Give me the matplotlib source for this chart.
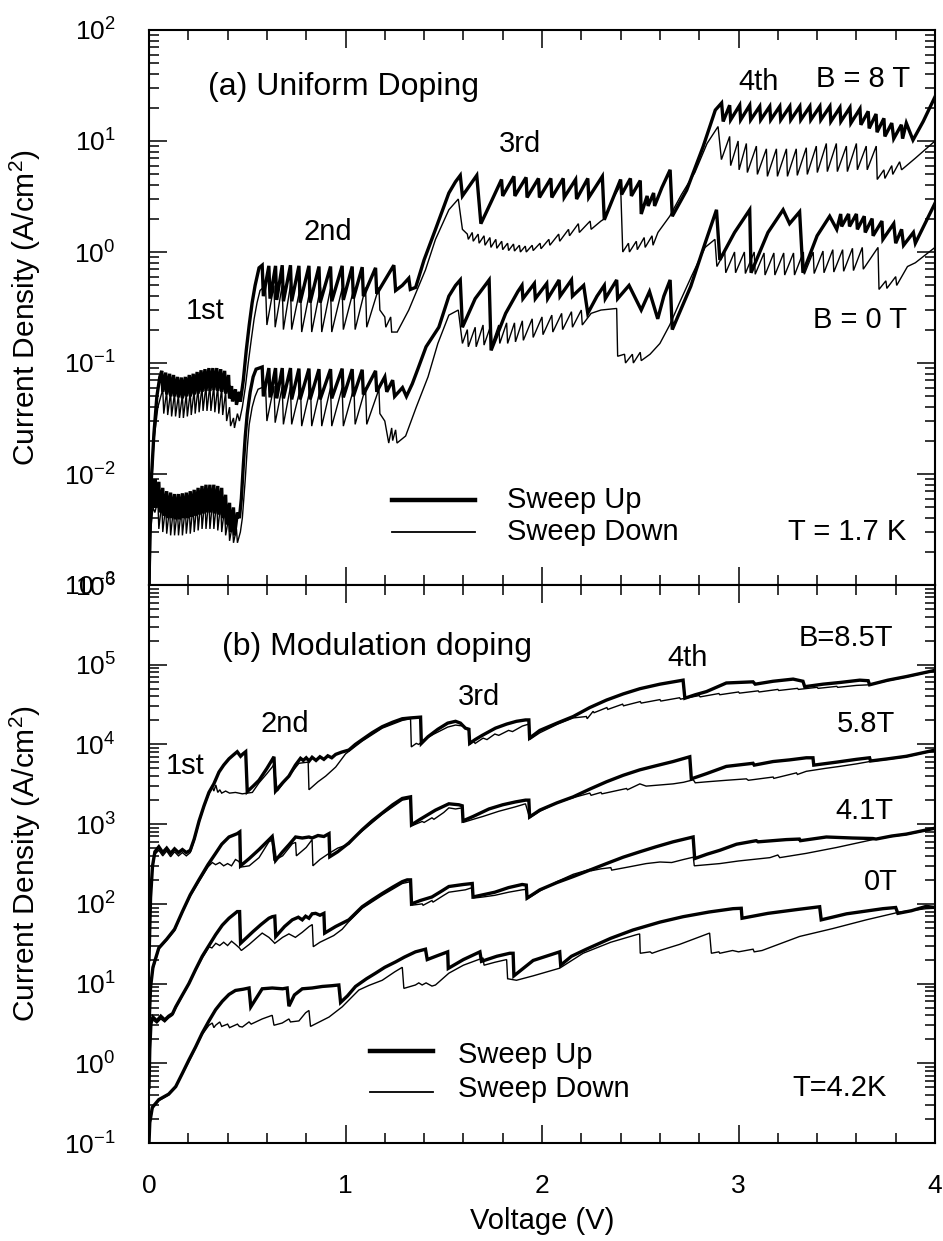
import numpy as np
import matplotlib
matplotlib.use("Agg")
import matplotlib.pyplot as plt
from matplotlib.ticker import MultipleLocator, LogLocator, NullFormatter

plt.rcParams['font.family'] = ['Liberation Sans', 'DejaVu Sans']
plt.rcParams['mathtext.fontset'] = 'custom'
plt.rcParams['mathtext.rm'] = 'Liberation Sans'
plt.rcParams['mathtext.it'] = 'Liberation Sans:italic'
plt.rcParams['mathtext.bf'] = 'Liberation Sans:bold'
plt.rcParams['mathtext.default'] = 'regular'

# ---- panel (a): uniform doping, (V, J) ----
a8_up = [
    (0.000, 0.001), (0.005, 0.004), (0.012, 0.009), (0.025, 0.023), (0.040, 0.050), (0.055, 0.075),
    (0.065, 0.085), (0.070, 0.055), (0.085, 0.082), (0.090, 0.052), (0.105, 0.080), (0.110, 0.050),
    (0.125, 0.078), (0.130, 0.050), (0.145, 0.075), (0.150, 0.049), (0.165, 0.074), (0.170, 0.048),
    (0.185, 0.075), (0.190, 0.050), (0.205, 0.078), (0.210, 0.050), (0.225, 0.080), (0.230, 0.052),
    (0.245, 0.083), (0.250, 0.053), (0.265, 0.086), (0.270, 0.055), (0.285, 0.088), (0.290, 0.056),
    (0.305, 0.090), (0.310, 0.056), (0.325, 0.090), (0.330, 0.057), (0.345, 0.090), (0.350, 0.056),
    (0.365, 0.088), (0.370, 0.055), (0.385, 0.085), (0.390, 0.053), (0.405, 0.078), (0.410, 0.048),
    (0.420, 0.062), (0.425, 0.045), (0.440, 0.058), (0.445, 0.042), (0.460, 0.055), (0.465, 0.045),
    (0.480, 0.070), (0.495, 0.13), (0.510, 0.22), (0.525, 0.35), (0.540, 0.50), (0.560, 0.72),
    (0.576, 0.76), (0.582, 0.40), (0.610, 0.75), (0.616, 0.38), (0.644, 0.75), (0.650, 0.37),
    (0.678, 0.76), (0.684, 0.36), (0.720, 0.76), (0.726, 0.36), (0.763, 0.75), (0.769, 0.35),
    (0.814, 0.75), (0.820, 0.35), (0.865, 0.74), (0.871, 0.35), (0.924, 0.74), (0.930, 0.36),
    (0.983, 0.75), (0.989, 0.37), (1.034, 0.74), (1.040, 0.38), (1.085, 0.73), (1.091, 0.40),
    (1.153, 0.72), (1.159, 0.42), (1.246, 0.76), (1.255, 0.45), (1.289, 0.50), (1.322, 0.58),
    (1.330, 0.46), (1.357, 0.48), (1.400, 0.85), (1.458, 1.6), (1.526, 3.4), (1.560, 4.3),
    (1.584, 4.9), (1.595, 3.2), (1.668, 4.9), (1.689, 1.8), (1.740, 2.8), (1.794, 4.5),
    (1.800, 3.2), (1.857, 4.8), (1.862, 3.2), (1.919, 4.7), (1.924, 3.1), (1.982, 4.6), (1.987, 3.1),
    (2.045, 4.6), (2.050, 3.1), (2.108, 4.6), (2.113, 3.1), (2.171, 4.5), (2.176, 3.0),
    (2.233, 4.6), (2.238, 3.1), (2.307, 4.8), (2.317, 1.95), (2.360, 3.0), (2.400, 4.5),
    (2.405, 3.3), (2.450, 4.6), (2.455, 3.2), (2.500, 4.4), (2.505, 2.2), (2.535, 3.2),
    (2.540, 2.6), (2.568, 3.4), (2.573, 2.6), (2.610, 3.8), (2.652, 5.5), (2.663, 2.1),
    (2.736, 3.6), (2.820, 8.9), (2.882, 19), (2.914, 22),
    (2.922, 15), (2.955, 21), (2.960, 15.5), (3.006, 21), (3.011, 15.5), (3.057, 21), (3.062, 15.5),
    (3.108, 20.5), (3.113, 15.5), (3.159, 20.5), (3.164, 15.5), (3.210, 20.5), (3.215, 15.5),
    (3.261, 20.5), (3.266, 15.5), (3.312, 20.5), (3.317, 15.5), (3.363, 20.5), (3.368, 15.5),
    (3.414, 20.5), (3.419, 15.5), (3.465, 20.5), (3.470, 15), (3.516, 20), (3.521, 15),
    (3.567, 20), (3.572, 14.5), (3.618, 19.5), (3.623, 14), (3.660, 18.5), (3.665, 13),
    (3.700, 17.5), (3.705, 12), (3.740, 16), (3.745, 11), (3.780, 14.5), (3.790, 10.5),
    (3.829, 14), (3.835, 10.5), (3.854, 14.5), (3.888, 10.2), (3.940, 15), (4.000, 25),
]
a8_down = [
    (0.000, 0.001), (0.010, 0.006), (0.025, 0.020), (0.045, 0.040), (0.060, 0.050),
    (0.070, 0.058), (0.075, 0.035), (0.090, 0.056), (0.095, 0.034), (0.110, 0.055), (0.115, 0.033),
    (0.130, 0.054), (0.135, 0.033), (0.150, 0.052), (0.155, 0.032), (0.170, 0.052), (0.175, 0.032),
    (0.190, 0.053), (0.195, 0.033), (0.210, 0.055), (0.215, 0.034), (0.230, 0.057), (0.235, 0.035),
    (0.250, 0.060), (0.255, 0.036), (0.270, 0.062), (0.275, 0.037), (0.290, 0.063), (0.295, 0.037),
    (0.310, 0.064), (0.315, 0.037), (0.330, 0.063), (0.335, 0.036), (0.350, 0.062), (0.355, 0.035),
    (0.370, 0.060), (0.375, 0.034), (0.390, 0.055), (0.395, 0.030), (0.410, 0.040), (0.415, 0.027),
    (0.430, 0.032), (0.435, 0.026), (0.450, 0.035), (0.460, 0.030), (0.475, 0.040),
    (0.490, 0.060), (0.505, 0.10), (0.520, 0.16), (0.535, 0.25), (0.550, 0.35), (0.565, 0.45),
    (0.593, 0.50), (0.600, 0.22), (0.636, 0.50), (0.642, 0.21), (0.678, 0.50), (0.684, 0.20),
    (0.720, 0.50), (0.726, 0.20), (0.771, 0.49), (0.777, 0.19), (0.822, 0.48), (0.828, 0.19),
    (0.873, 0.48), (0.879, 0.19), (0.924, 0.47), (0.930, 0.19), (0.983, 0.47), (0.989, 0.20),
    (1.043, 0.47), (1.049, 0.20), (1.102, 0.48), (1.108, 0.21), (1.170, 0.48), (1.175, 0.30),
    (1.200, 0.26), (1.205, 0.21), (1.230, 0.26), (1.235, 0.19), (1.263, 0.19),
    (1.322, 0.30), (1.370, 0.48), (1.407, 0.69), (1.458, 1.3), (1.526, 2.4), (1.574, 3.0), (1.595, 1.6),
    (1.620, 1.45), (1.625, 1.3), (1.645, 1.5), (1.650, 1.25), (1.675, 1.45), (1.680, 1.2),
    (1.705, 1.4), (1.710, 1.15), (1.735, 1.35), (1.740, 1.1), (1.765, 1.3), (1.770, 1.08),
    (1.795, 1.25), (1.800, 1.05), (1.825, 1.2), (1.830, 1.03), (1.855, 1.18), (1.860, 1.02),
    (1.885, 1.15), (1.890, 1.0), (1.915, 1.13), (1.920, 1.0), (1.950, 1.15), (1.955, 1.03),
    (1.990, 1.2), (1.995, 1.07), (2.035, 1.3), (2.040, 1.15), (2.085, 1.45), (2.090, 1.25),
    (2.135, 1.6), (2.140, 1.4), (2.185, 1.8), (2.190, 1.5), (2.245, 1.9), (2.250, 1.6),
    (2.300, 1.9), (2.320, 2.0), (2.360, 3.0), (2.400, 4.0), (2.411, 1.0),
    (2.440, 1.2), (2.445, 1.0), (2.480, 1.25), (2.485, 1.05), (2.520, 1.35), (2.525, 1.1),
    (2.560, 1.4), (2.565, 1.15), (2.590, 1.5), (2.650, 2.1), (2.710, 3.3), (2.778, 5.2),
    (2.840, 9.5), (2.896, 13.5), (2.913, 6.8),
    (2.955, 11), (2.960, 6.0), (2.998, 10), (3.003, 5.5), (3.040, 9.5), (3.045, 5.2),
    (3.091, 9.0), (3.096, 5.0), (3.142, 8.5), (3.147, 4.8), (3.193, 8.5), (3.198, 4.8),
    (3.244, 8.5), (3.249, 4.8), (3.294, 8.5), (3.299, 4.9), (3.345, 8.7), (3.350, 5.0),
    (3.396, 9.0), (3.401, 5.2), (3.447, 9.5), (3.452, 5.3), (3.498, 9.5), (3.503, 5.3),
    (3.549, 9.0), (3.554, 5.3), (3.600, 9.5), (3.605, 5.5), (3.650, 9.0), (3.655, 5.5),
    (3.701, 9.0), (3.706, 4.5), (3.740, 5.5), (3.745, 4.6), (3.780, 6.0), (3.785, 5.0),
    (3.820, 6.5), (3.830, 5.5), (3.900, 7.0), (4.000, 10),
]
a0_up = [
    (0.000, 0.001), (0.005, 0.003), (0.012, 0.0065), (0.018, 0.009), (0.025, 0.005),
    (0.030, 0.009), (0.035, 0.005),
    (0.050, 0.0085), (0.055, 0.0045), (0.070, 0.0075), (0.075, 0.0042), (0.090, 0.0070), (0.095, 0.0040),
    (0.110, 0.0068), (0.115, 0.0040), (0.130, 0.0066), (0.135, 0.0039), (0.150, 0.0066), (0.155, 0.0039),
    (0.170, 0.0067), (0.175, 0.0040), (0.190, 0.0068), (0.195, 0.0040), (0.210, 0.0070), (0.215, 0.0041),
    (0.230, 0.0072), (0.235, 0.0042), (0.250, 0.0075), (0.255, 0.0043), (0.270, 0.0078), (0.275, 0.0044),
    (0.290, 0.0080), (0.295, 0.0045), (0.310, 0.0080), (0.315, 0.0045), (0.330, 0.0080), (0.335, 0.0044),
    (0.350, 0.0078), (0.355, 0.0043), (0.370, 0.0075), (0.375, 0.0040), (0.390, 0.0065), (0.395, 0.0035),
    (0.410, 0.0055), (0.415, 0.0030), (0.430, 0.0050), (0.435, 0.0028), (0.450, 0.0045), (0.460, 0.0040),
    (0.470, 0.006), (0.480, 0.012), (0.490, 0.022), (0.500, 0.035), (0.515, 0.055), (0.530, 0.075),
    (0.545, 0.088),
    (0.576, 0.092), (0.582, 0.050), (0.610, 0.090), (0.616, 0.049), (0.644, 0.090), (0.650, 0.048),
    (0.678, 0.090), (0.684, 0.048), (0.720, 0.090), (0.726, 0.047), (0.763, 0.089), (0.769, 0.047),
    (0.814, 0.089), (0.820, 0.047), (0.865, 0.088), (0.871, 0.047), (0.924, 0.088), (0.930, 0.048),
    (0.983, 0.089), (0.989, 0.049), (1.034, 0.088), (1.040, 0.050), (1.085, 0.087), (1.091, 0.052),
    (1.153, 0.085), (1.159, 0.055), (1.200, 0.075), (1.210, 0.055), (1.240, 0.070), (1.250, 0.050),
    (1.290, 0.060), (1.310, 0.050),
    (1.340, 0.065), (1.370, 0.09), (1.410, 0.14), (1.475, 0.21), (1.526, 0.40), (1.560, 0.50),
    (1.584, 0.56), (1.595, 0.21), (1.660, 0.38), (1.731, 0.56), (1.741, 0.13), (1.815, 0.28),
    (1.877, 0.44), (1.898, 0.50),
    (1.903, 0.38), (1.961, 0.52), (1.966, 0.38), (2.024, 0.52), (2.029, 0.38), (2.087, 0.56),
    (2.092, 0.40), (2.150, 0.56), (2.155, 0.40), (2.212, 0.50), (2.233, 0.28), (2.280, 0.40),
    (2.317, 0.50), (2.322, 0.38), (2.380, 0.56), (2.385, 0.38), (2.443, 0.50), (2.505, 0.30),
    (2.547, 0.44), (2.589, 0.25), (2.620, 0.40), (2.652, 0.56), (2.663, 0.20),
    (2.757, 0.49), (2.830, 1.2), (2.888, 2.4), (2.905, 0.85),
    (2.980, 1.5), (3.057, 2.4), (3.064, 0.65), (3.150, 1.5), (3.227, 2.4), (3.260, 1.8),
    (3.311, 2.3), (3.328, 0.65), (3.400, 1.4), (3.464, 2.1),
    (3.500, 1.6), (3.520, 2.2), (3.525, 1.7), (3.560, 2.2), (3.565, 1.7), (3.600, 2.2),
    (3.605, 1.6), (3.640, 2.1), (3.645, 1.5), (3.680, 2.0), (3.685, 1.4), (3.730, 1.9),
    (3.735, 1.3), (3.790, 1.8), (3.800, 1.2), (3.830, 1.6), (3.840, 1.15), (3.890, 1.5),
    (3.900, 1.2), (4.000, 2.75),
]
a0_down = [
    (0.000, 0.001), (0.008, 0.003), (0.020, 0.005), (0.030, 0.0045), (0.045, 0.0058), (0.050, 0.0032),
    (0.065, 0.0055), (0.070, 0.0030), (0.085, 0.0052), (0.090, 0.0029), (0.105, 0.0050), (0.110, 0.0028),
    (0.125, 0.0050), (0.130, 0.0028), (0.145, 0.0049), (0.150, 0.0028), (0.165, 0.0050), (0.170, 0.0028),
    (0.185, 0.0051), (0.190, 0.0029), (0.205, 0.0052), (0.210, 0.0029), (0.225, 0.0054), (0.230, 0.0030),
    (0.245, 0.0056), (0.250, 0.0031), (0.265, 0.0058), (0.270, 0.0032), (0.285, 0.0060), (0.290, 0.0032),
    (0.305, 0.0060), (0.310, 0.0032), (0.325, 0.0060), (0.330, 0.0032), (0.345, 0.0058), (0.350, 0.0031),
    (0.365, 0.0055), (0.370, 0.0030), (0.385, 0.0050), (0.390, 0.0028), (0.405, 0.0040), (0.410, 0.0025),
    (0.425, 0.0035), (0.430, 0.0024), (0.445, 0.0032), (0.450, 0.0024), (0.465, 0.0030),
    (0.475, 0.004), (0.490, 0.009), (0.500, 0.017), (0.510, 0.028), (0.525, 0.040), (0.540, 0.050),
    (0.555, 0.058),
    (0.593, 0.062), (0.600, 0.030), (0.636, 0.062), (0.642, 0.029), (0.678, 0.061), (0.684, 0.028),
    (0.720, 0.061), (0.726, 0.028), (0.771, 0.060), (0.777, 0.027), (0.822, 0.060), (0.828, 0.027),
    (0.873, 0.060), (0.879, 0.027), (0.924, 0.060), (0.930, 0.027), (0.983, 0.060), (0.989, 0.027),
    (1.043, 0.060), (1.049, 0.028), (1.102, 0.060), (1.108, 0.028), (1.170, 0.058), (1.175, 0.035),
    (1.200, 0.030), (1.220, 0.019), (1.235, 0.026), (1.240, 0.020), (1.255, 0.025), (1.262, 0.019),
    (1.306, 0.022),
    (1.360, 0.040), (1.420, 0.075), (1.470, 0.15), (1.526, 0.27), (1.574, 0.30), (1.595, 0.15),
    (1.620, 0.20), (1.625, 0.14), (1.660, 0.21), (1.665, 0.14), (1.700, 0.22), (1.705, 0.145),
    (1.740, 0.22), (1.745, 0.145), (1.780, 0.22), (1.785, 0.15), (1.820, 0.23), (1.825, 0.15),
    (1.860, 0.23), (1.865, 0.155), (1.900, 0.24), (1.905, 0.16), (1.950, 0.25), (1.955, 0.17),
    (2.000, 0.26), (2.005, 0.18), (2.050, 0.27), (2.055, 0.19), (2.100, 0.28), (2.105, 0.20),
    (2.150, 0.29), (2.155, 0.21), (2.200, 0.30), (2.205, 0.22), (2.250, 0.28), (2.300, 0.30),
    (2.380, 0.31), (2.385, 0.115),
    (2.420, 0.12), (2.425, 0.10), (2.460, 0.12), (2.465, 0.10), (2.500, 0.125), (2.505, 0.105),
    (2.550, 0.12), (2.600, 0.15), (2.650, 0.22), (2.700, 0.35), (2.760, 0.60), (2.830, 1.1),
    (2.880, 1.3), (2.890, 0.74),
    (2.930, 1.0), (2.935, 0.65), (2.980, 1.0), (2.985, 0.65), (3.030, 1.0), (3.035, 0.64),
    (3.080, 1.0), (3.085, 0.63), (3.130, 0.98), (3.135, 0.62), (3.180, 0.98), (3.185, 0.62),
    (3.230, 0.98), (3.235, 0.62), (3.280, 0.98), (3.285, 0.62), (3.330, 1.0), (3.335, 0.63),
    (3.380, 1.0), (3.385, 0.64), (3.430, 1.02), (3.435, 0.65), (3.480, 1.05), (3.485, 0.66),
    (3.530, 1.05), (3.535, 0.67), (3.580, 1.08), (3.585, 0.68), (3.630, 1.1), (3.635, 0.70),
    (3.710, 1.1), (3.715, 0.46),
    (3.750, 0.55), (3.755, 0.47), (3.800, 0.60), (3.805, 0.50), (3.860, 0.74), (3.900, 0.80),
    (4.000, 1.1),
]

# ---- panel (b): modulation doping ----
b85_up = [
    (0.000, 20), (0.008, 120), (0.018, 300), (0.030, 450), (0.050, 520), (0.070, 440), (0.090, 500),
    (0.110, 430), (0.130, 490), (0.150, 440), (0.170, 480), (0.190, 440), (0.210, 470),
    (0.230, 650), (0.255, 1100), (0.280, 1700), (0.305, 2500), (0.330, 3200), (0.356, 4500),
    (0.380, 5500), (0.407, 6600), (0.430, 7400), (0.449, 8100), (0.466, 7100), (0.478, 7600),
    (0.492, 8100), (0.500, 2560), (0.530, 3000), (0.560, 3550), (0.600, 5000), (0.636, 7000),
    (0.644, 2600), (0.680, 3300), (0.712, 4000), (0.745, 5500), (0.771, 6700), (0.785, 6300),
    (0.800, 6800), (0.815, 6200), (0.830, 6900), (0.850, 6300), (0.870, 7000), (0.890, 6500),
    (0.910, 7200), (0.930, 6800), (0.950, 7500), (0.980, 8000), (1.017, 8500), (1.050, 10000),
    (1.085, 11500), (1.135, 14000), (1.187, 16700), (1.240, 19000), (1.289, 21000),
    (1.330, 21500), (1.382, 22000), (1.386, 10300), (1.420, 12500), (1.470, 15500),
    (1.520, 18500), (1.560, 19500), (1.585, 18500), (1.610, 16000), (1.628, 15500),
    (1.632, 10300), (1.660, 11500), (1.696, 13000), (1.763, 16000), (1.820, 18000),
    (1.870, 19500), (1.916, 20300), (1.933, 20300), (1.937, 12000), (1.989, 15000),
    (2.076, 18500), (2.159, 22400), (2.243, 29000), (2.328, 36000), (2.413, 43000),
    (2.498, 50000), (2.600, 57000), (2.718, 64000), (2.727, 38000), (2.780, 42000),
    (2.837, 46000), (2.938, 59000), (3.074, 61000), (3.085, 57000), (3.176, 62000),
    (3.278, 66000), (3.328, 62000), (3.337, 53000), (3.430, 57000), (3.520, 60000),
    (3.617, 64000), (3.660, 63000), (3.667, 56000), (3.760, 64000), (3.854, 71000),
    (3.930, 78000), (4.000, 85000),
]
b85_down = [
    (0.000, 18), (0.008, 110), (0.018, 280), (0.030, 420), (0.050, 470), (0.070, 400), (0.090, 460),
    (0.110, 390), (0.130, 450), (0.150, 400), (0.170, 440), (0.190, 400), (0.210, 440),
    (0.230, 620), (0.255, 1050), (0.280, 1650), (0.305, 2400), (0.322, 2950), (0.330, 2600),
    (0.340, 3100), (0.350, 2500), (0.360, 2700), (0.370, 2450), (0.390, 2600), (0.410, 2450),
    (0.440, 2500), (0.475, 2400), (0.500, 2450), (0.526, 2500), (0.560, 3300), (0.600, 4300),
    (0.627, 5200), (0.635, 5600), (0.653, 2600), (0.700, 3700), (0.763, 5800), (0.810, 6000),
    (0.814, 2700), (0.860, 3400), (0.899, 4000), (0.950, 5200), (1.000, 7600), (1.085, 11000),
    (1.187, 16000), (1.289, 20000), (1.331, 21000), (1.335, 9300), (1.360, 10300),
    (1.373, 10000), (1.400, 11500), (1.450, 13500), (1.520, 16500), (1.560, 17500),
    (1.600, 17000), (1.628, 15000), (1.632, 10000), (1.650, 11000), (1.660, 10300),
    (1.700, 12000), (1.720, 11500), (1.760, 13500), (1.780, 13000), (1.830, 15000),
    (1.850, 14500), (1.900, 17000), (1.933, 18000), (1.937, 11500), (1.989, 14000),
    (2.080, 18000), (2.159, 21500), (2.226, 22400), (2.230, 21000), (2.260, 26000),
    (2.265, 25000), (2.330, 29000), (2.335, 27500), (2.410, 32000), (2.415, 30500),
    (2.500, 34500), (2.505, 33000), (2.600, 36500), (2.605, 35000), (2.700, 38500),
    (2.705, 37000), (2.800, 41000), (2.805, 39500), (2.900, 43500), (2.905, 42000),
    (3.000, 45500), (3.005, 44000), (3.100, 47000), (3.105, 45500), (3.200, 49000),
    (3.205, 47500), (3.300, 50500), (3.305, 49000), (3.400, 52000), (3.405, 50500),
    (3.500, 53500), (3.505, 52000), (3.600, 55000), (3.667, 56000), (3.760, 63000),
    (3.854, 70000), (3.930, 77000), (4.000, 84000),
]
b58_up = [
    (0.000, 3), (0.008, 9), (0.020, 16), (0.050, 28), (0.090, 36), (0.130, 48), (0.170, 80),
    (0.210, 130), (0.254, 200), (0.300, 310), (0.339, 430), (0.370, 560), (0.407, 690),
    (0.449, 760), (0.462, 800), (0.466, 300), (0.510, 370), (0.560, 480), (0.627, 700),
    (0.644, 350), (0.680, 450), (0.712, 550), (0.746, 690), (0.780, 670), (0.814, 690),
    (0.830, 670), (0.860, 720), (0.890, 700), (0.916, 760), (0.920, 390), (0.960, 450),
    (1.017, 580), (1.085, 850), (1.136, 1100), (1.187, 1380), (1.240, 1750), (1.289, 2100),
    (1.331, 2200), (1.336, 980), (1.380, 1150), (1.458, 1500), (1.526, 1800), (1.577, 1750),
    (1.594, 1700), (1.598, 1100), (1.650, 1250), (1.730, 1550), (1.800, 1750), (1.865, 1900),
    (1.916, 2000), (1.933, 2000), (1.937, 1230), (1.989, 1500), (2.076, 1850), (2.159, 2200),
    (2.243, 2750), (2.328, 3400), (2.413, 4100), (2.498, 4800), (2.580, 5400), (2.667, 6100),
    (2.752, 7000), (2.760, 3700), (2.837, 4300), (2.938, 5300), (3.074, 5800), (3.080, 5500),
    (3.176, 6100), (3.260, 6400), (3.345, 6800), (3.379, 6800), (3.383, 5500), (3.500, 6000),
    (3.600, 6500), (3.667, 6800), (3.672, 6200), (3.760, 6600), (3.854, 7100), (3.930, 7800),
    (4.000, 8500),
]
b58_down = [
    (0.000, 3), (0.008, 9), (0.020, 15), (0.050, 27), (0.090, 35), (0.130, 46), (0.170, 78),
    (0.210, 125), (0.254, 190), (0.300, 290), (0.322, 330), (0.339, 310), (0.360, 330),
    (0.380, 300), (0.400, 320), (0.420, 300), (0.440, 360), (0.458, 340), (0.470, 290),
    (0.510, 300), (0.530, 330), (0.560, 380), (0.610, 600), (0.627, 630), (0.636, 350),
    (0.680, 400), (0.730, 570), (0.746, 590), (0.750, 400), (0.800, 510), (0.830, 640),
    (0.834, 300), (0.870, 360), (0.916, 430), (0.960, 500), (1.017, 560), (1.050, 700),
    (1.085, 820), (1.187, 1330), (1.289, 2000), (1.331, 2100), (1.336, 950), (1.390, 1080),
    (1.400, 1050), (1.440, 1200), (1.450, 1150), (1.500, 1400), (1.526, 1600), (1.560, 1550),
    (1.594, 1600), (1.598, 1050), (1.650, 1150), (1.700, 1250), (1.780, 1450), (1.865, 1650),
    (1.916, 1800), (1.937, 1200), (1.989, 1450), (2.076, 1850), (2.159, 2150), (2.243, 2450),
    (2.250, 2300), (2.300, 2500), (2.305, 2400), (2.430, 2800), (2.435, 2700), (2.498, 3200),
    (2.530, 3000), (2.600, 3100), (2.667, 3200), (2.720, 3350), (2.770, 3600), (2.780, 3300),
    (2.840, 3400), (2.938, 3550), (3.040, 3700), (3.050, 3550), (3.176, 3900), (3.180, 3750),
    (3.295, 4400), (3.300, 4200), (3.345, 4600), (3.440, 5000), (3.515, 5300), (3.600, 5700),
    (3.667, 6100), (3.760, 6500), (3.854, 7000), (3.930, 7700), (4.000, 8400),
]
b41_up = [
    (0.000, 0.5), (0.004, 1.5), (0.010, 3.2), (0.020, 3.8), (0.040, 3.4), (0.060, 3.9),
    (0.080, 3.5), (0.100, 3.9), (0.120, 4.2), (0.136, 5.1), (0.170, 7.2), (0.203, 10),
    (0.237, 15), (0.271, 22), (0.305, 30), (0.339, 41), (0.373, 54), (0.407, 66), (0.449, 80),
    (0.461, 80), (0.466, 32), (0.530, 45), (0.570, 55), (0.610, 66), (0.627, 69), (0.640, 70),
    (0.645, 39), (0.690, 52), (0.729, 63), (0.760, 68), (0.780, 63), (0.797, 70), (0.814, 66),
    (0.830, 75), (0.848, 76), (0.870, 72), (0.890, 76), (0.894, 43), (0.950, 52), (1.017, 63),
    (1.085, 92), (1.136, 112), (1.187, 135), (1.240, 162), (1.289, 190), (1.314, 200),
    (1.331, 200), (1.336, 100), (1.380, 110), (1.440, 122), (1.490, 145), (1.526, 165),
    (1.600, 175), (1.645, 180), (1.649, 122), (1.700, 130), (1.760, 140), (1.830, 160),
    (1.899, 175), (1.920, 172), (1.924, 118), (1.989, 150), (2.076, 185), (2.159, 220),
    (2.243, 265), (2.328, 320), (2.413, 385), (2.498, 450), (2.580, 520), (2.667, 600),
    (2.769, 690), (2.777, 370), (2.840, 420), (2.905, 470), (2.990, 560), (3.090, 620),
    (3.100, 600), (3.243, 640), (3.310, 650), (3.315, 620), (3.447, 690), (3.580, 670),
    (3.684, 660), (3.700, 650), (3.780, 710), (3.854, 750), (3.930, 820), (4.000, 890),
]
b41_down = [
    (0.000, 0.5), (0.004, 1.4), (0.010, 3.0), (0.020, 3.5), (0.040, 3.2), (0.060, 3.6),
    (0.080, 3.3), (0.100, 3.7), (0.120, 4.0), (0.136, 4.9), (0.170, 7.0), (0.203, 9.8),
    (0.237, 14.5), (0.271, 21), (0.290, 25), (0.305, 29), (0.320, 28), (0.340, 32), (0.360, 30),
    (0.380, 33), (0.400, 30), (0.420, 34), (0.440, 31), (0.460, 28), (0.470, 26), (0.510, 31),
    (0.540, 36), (0.576, 43), (0.610, 38), (0.630, 34), (0.640, 32), (0.680, 38), (0.712, 42),
    (0.745, 38), (0.780, 44), (0.815, 52), (0.831, 55), (0.836, 29), (0.870, 33), (0.940, 40),
    (0.983, 48), (1.017, 60), (1.085, 88), (1.187, 128), (1.289, 180), (1.331, 190),
    (1.336, 96), (1.390, 100), (1.395, 96), (1.440, 110), (1.445, 105), (1.500, 128),
    (1.526, 140), (1.610, 150), (1.645, 160), (1.649, 118), (1.700, 122), (1.760, 128),
    (1.830, 140), (1.899, 150), (1.920, 152), (1.924, 115), (1.989, 145), (2.076, 190),
    (2.159, 235), (2.243, 270), (2.250, 260), (2.300, 275), (2.350, 285), (2.355, 265),
    (2.440, 290), (2.530, 320), (2.600, 335), (2.660, 330), (2.720, 360), (2.770, 385),
    (2.775, 300), (2.905, 320), (3.000, 345), (3.160, 380), (3.200, 410), (3.210, 380),
    (3.345, 430), (3.500, 510), (3.684, 640), (3.780, 700), (3.854, 740), (3.930, 810),
    (4.000, 880),
]
b0_up = [
    (0.000, 0.1), (0.004, 0.18), (0.017, 0.28), (0.050, 0.35), (0.100, 0.41), (0.136, 0.51),
    (0.170, 0.75), (0.203, 1.1), (0.237, 1.6), (0.271, 2.4), (0.305, 3.4), (0.339, 4.7),
    (0.373, 6.0), (0.407, 7.3), (0.440, 8.2), (0.480, 8.5), (0.509, 8.8), (0.518, 5.1),
    (0.550, 6.8), (0.576, 8.6), (0.627, 8.8), (0.680, 8.6), (0.703, 8.8), (0.712, 5.2),
    (0.740, 7.2), (0.780, 8.6), (0.830, 8.8), (0.882, 9.2), (0.930, 9.4), (0.966, 9.6),
    (0.975, 5.8), (1.010, 7.0), (1.051, 9.2), (1.107, 11.5), (1.153, 13.5), (1.200, 16),
    (1.255, 18.7), (1.300, 21.5), (1.356, 25), (1.407, 27), (1.416, 20), (1.470, 22.5),
    (1.520, 25), (1.523, 15.5), (1.600, 20), (1.684, 25), (1.692, 19), (1.770, 22),
    (1.836, 24), (1.853, 24), (1.857, 12.5), (1.955, 19.5), (2.090, 25), (2.095, 17),
    (2.150, 22), (2.226, 27), (2.350, 37), (2.463, 47), (2.600, 59), (2.718, 69), (2.850, 79),
    (2.972, 87), (3.014, 88), (3.018, 66), (3.150, 76), (3.300, 85), (3.413, 92), (3.421, 63),
    (3.550, 75), (3.735, 87), (3.800, 90), (3.811, 76), (3.880, 82), (3.955, 93), (4.000, 90),
]
b0_down = [
    (0.000, 0.1), (0.004, 0.17), (0.017, 0.27), (0.050, 0.34), (0.100, 0.40), (0.136, 0.50),
    (0.170, 0.73), (0.203, 1.05), (0.237, 1.55), (0.271, 2.3), (0.305, 3.0), (0.322, 3.2),
    (0.330, 2.8), (0.339, 3.0), (0.360, 3.3), (0.370, 2.9), (0.400, 3.1), (0.410, 2.8),
    (0.450, 3.1), (0.460, 2.9), (0.475, 2.85), (0.509, 3.3), (0.520, 3.1), (0.576, 3.6),
    (0.627, 4.0), (0.636, 3.0), (0.678, 3.2), (0.712, 3.6), (0.720, 3.3), (0.763, 3.4),
    (0.797, 4.3), (0.814, 4.6), (0.822, 2.9), (0.916, 3.8), (0.983, 5.1), (1.068, 8.3),
    (1.120, 9.5), (1.187, 11), (1.250, 14), (1.289, 16), (1.297, 8.7), (1.356, 9.6),
    (1.373, 10.2), (1.390, 9.6), (1.410, 10.2), (1.440, 9.3), (1.458, 9.6), (1.526, 13.5),
    (1.600, 17), (1.700, 21), (1.705, 17), (1.760, 18.5), (1.800, 19.5), (1.820, 20),
    (1.825, 11.5), (1.870, 11), (1.955, 12.5), (2.090, 15.6), (2.209, 24), (2.350, 33),
    (2.480, 41), (2.497, 42), (2.500, 24), (2.550, 25), (2.560, 24), (2.600, 26), (2.700, 31),
    (2.853, 43), (2.862, 24), (2.900, 25), (2.905, 24), (2.970, 26), (3.000, 25), (3.074, 27),
    (3.080, 25), (3.120, 26), (3.311, 39), (3.480, 49), (3.650, 63), (3.820, 79), (3.955, 87),
    (4.000, 88),
]

top_yticks = [1e-3, 1e-2, 1e-1, 1e0, 1e1, 1e2]
top_ylabels = ['$10^{-3}$', '$10^{-2}$', '$10^{-1}$', '$10^{0}$', '$10^{1}$', '$10^{2}$']
bot_yticks = [1e-1, 1e0, 1e1, 1e2, 1e3, 1e4, 1e5, 1e6]
bot_ylabels = ['$10^{-1}$', '$10^{0}$', '$10^{1}$', '$10^{2}$', '$10^{3}$', '$10^{4}$',
               '$10^{5}$', '$10^{6}$']
xticks = [0, 1, 2, 3, 4]
xlabels = ['0', '1', '2', '3', '4']

FS_TICK = 19
FS_TXT = 21
FS_TITLE = 23
THICK = 2.4
THIN = 1.0

fig = plt.figure(figsize=(9.43, 12.41), dpi=100)
W, H = 943.0, 1241.0
x0, x1 = 149, 935
ax_a = fig.add_axes([x0 / W, 1 - 585 / H, (x1 - x0) / W, (585 - 30) / H])
ax_b = fig.add_axes([x0 / W, 1 - 1143 / H, (x1 - x0) / W, (1143 - 585) / H])


def curve(ax, pts, lw):
    arr = np.array(pts)
    ax.plot(arr[:, 0], arr[:, 1], color='black', lw=lw, solid_joinstyle='miter')


for ax in (ax_a, ax_b):
    ax.set_yscale('log')
    ax.set_xlim(0, 4)
    ax.set_xticks(xticks)
    ax.xaxis.set_minor_locator(MultipleLocator(0.2))
    ax.yaxis.set_minor_locator(LogLocator(base=10, subs=np.arange(2, 10), numticks=100))
    ax.yaxis.set_minor_formatter(NullFormatter())
    ax.tick_params(which='both', direction='in', top=True, right=True, width=1.1,
                   labelsize=FS_TICK)
    ax.tick_params(which='major', length=13)
    ax.tick_params(which='minor', length=7)
    ax.tick_params(axis='y', pad=24)
    ax.tick_params(axis='x', pad=22)
    for s in ax.spines.values():
        s.set_linewidth(1.5)
    ax.set_ylabel('Current Density (A/cm$^2$)', fontsize=FS_TXT + 0.5)
    ax.yaxis.set_label_coords(-0.135, 0.5)

# panel (a)
curve(ax_a, a0_down, THIN)
curve(ax_a, a8_down, THIN)
curve(ax_a, a0_up, THICK)
curve(ax_a, a8_up, THICK)
ax_a.set_ylim(1e-3, 1e2)
ax_a.set_yticks(top_yticks)
ax_a.set_yticklabels(top_ylabels)
ax_a.tick_params(labelbottom=False)

ta = ax_a.transAxes
ax_a.text(0.075, 0.897, '(a) Uniform Doping', fontsize=FS_TITLE, va='center', transform=ta)
ax_a.text(0.968, 0.912, 'B = 8 T', fontsize=FS_TXT, ha='right', va='center', transform=ta)
ax_a.text(0.775, 0.906, '4th', fontsize=FS_TXT, ha='center', va='center', transform=ta)
ax_a.text(0.472, 0.795, '3rd', fontsize=FS_TXT, ha='center', va='center', transform=ta)
ax_a.text(0.228, 0.636, '2nd', fontsize=FS_TXT, ha='center', va='center', transform=ta)
ax_a.text(0.071, 0.494, '1st', fontsize=FS_TXT, ha='center', va='center', transform=ta)
ax_a.text(0.964, 0.477, 'B = 0 T', fontsize=FS_TXT, ha='right', va='center', transform=ta)
ax_a.plot([0.309, 0.415], [0.153, 0.153], color='black', lw=3.2, transform=ta)
ax_a.plot([0.309, 0.415], [0.0955, 0.0955], color='black', lw=1.3, transform=ta)
ax_a.text(0.455, 0.153, 'Sweep Up', fontsize=FS_TXT, va='center', transform=ta)
ax_a.text(0.455, 0.0955, 'Sweep Down', fontsize=FS_TXT, va='center', transform=ta)
ax_a.text(0.964, 0.0955, 'T = 1.7 K', fontsize=FS_TXT, ha='right', va='center', transform=ta)

# panel (b)
for pts in (b0_down, b41_down, b58_down, b85_down):
    curve(ax_b, pts, THIN)
for pts in (b0_up, b41_up, b58_up, b85_up):
    curve(ax_b, pts, THICK)
ax_b.set_ylim(1e-1, 1e6)
ax_b.set_yticks(bot_yticks)
ax_b.set_yticklabels(bot_ylabels)
ax_b.set_xticklabels(xlabels)
ax_b.set_xlabel('Voltage (V)', fontsize=FS_TXT)
ax_b.xaxis.set_label_coords(0.5, -0.115)

tb = ax_b.transAxes
ax_b.text(0.093, 0.889, '(b) Modulation doping', fontsize=FS_TITLE, va='center', transform=tb)
ax_b.text(0.947, 0.905, 'B=8.5T', fontsize=FS_TXT, ha='right', va='center', transform=tb)
ax_b.text(0.685, 0.87, '4th', fontsize=FS_TXT, ha='center', va='center', transform=tb)
ax_b.text(0.42, 0.80, '3rd', fontsize=FS_TXT, ha='center', va='center', transform=tb)
ax_b.text(0.173, 0.75, '2nd', fontsize=FS_TXT, ha='center', va='center', transform=tb)
ax_b.text(0.046, 0.675, '1st', fontsize=FS_TXT, ha='center', va='center', transform=tb)
ax_b.text(0.949, 0.751, '5.8T', fontsize=FS_TXT, ha='right', va='center', transform=tb)
ax_b.text(0.947, 0.595, '4.1T', fontsize=FS_TXT, ha='right', va='center', transform=tb)
ax_b.text(0.953, 0.468, '0T', fontsize=FS_TXT, ha='right', va='center', transform=tb)
ax_b.plot([0.281, 0.361], [0.165, 0.165], color='black', lw=3.2, transform=tb)
ax_b.plot([0.281, 0.361], [0.0914, 0.0914], color='black', lw=1.3, transform=tb)
ax_b.text(0.393, 0.158, 'Sweep Up', fontsize=FS_TXT, va='center', transform=tb)
ax_b.text(0.393, 0.097, 'Sweep Down', fontsize=FS_TXT, va='center', transform=tb)
ax_b.text(0.939, 0.099, 'T=4.2K', fontsize=FS_TXT, ha='right', va='center', transform=tb)

fig.savefig('out.png', dpi=100)
